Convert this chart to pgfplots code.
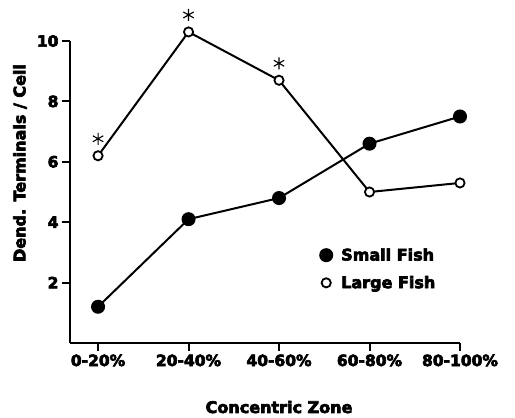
\documentclass[border=0pt]{standalone}
\usepackage{pgfplots}
\pgfplotsset{compat=1.18}
\usepackage{fontspec}
\setmainfont{DejaVu Sans}[BoldFont={DejaVu Sans Bold}, BoldFeatures={FakeBold=4}]
\begin{document}
\begin{tikzpicture}
\path[use as bounding box] (-70pt,-75pt) rectangle (445pt,343pt);
\begin{axis}[
  at={(0pt,0pt)}, anchor=south west,
  width=390pt, height=302pt, scale only axis,
  xmin=-0.31, xmax=4, ymin=0, ymax=10,
  axis x line*=bottom, axis y line*=left,
  axis line style={line width=2pt, black},
  xtick={0,1,2,3,4},
  xticklabels={0-20\%,20-40\%,40-60\%,60-80\%,80-100\%},
  ytick={2,4,6,8,10},
  tick align=outside, major tick length=8pt,
  tick style={line width=2pt, black},
  /pgf/number format/assume math mode=true,
  tick label style={font=\fontsize{15.5}{18}\selectfont\bfseries},
  xlabel={Concentric Zone}, ylabel={Dend. Terminals / Cell},
  label style={font=\fontsize{16}{19}\selectfont\bfseries},
  xlabel style={at={(axis description cs:0.536,-0.212)}, anchor=center},
  ylabel style={at={(axis description cs:-0.128,0.596)}, anchor=center},
  clip=false,
  legend style={at={(axis cs:2.42,2.45)}, anchor=west, draw=none, fill=none,
    font=\fontsize{16}{19}\selectfont\bfseries, row sep=10pt},
  legend cell align=left,
  legend image code/.code={\draw[#1, only marks] plot coordinates {(0.3cm,0cm)};
    \path[draw=none] (0.3cm-6pt,0cm) -- (0.3cm+13pt,0cm);},
]
\addplot[black, line width=2pt, mark=*, mark size=6pt, mark options={fill=black}]
  coordinates {(0,1.2) (1,4.1) (2,4.8) (3,6.6) (4,7.5)};
\addlegendentry{Small Fish}
\addplot[black, line width=2pt, mark=*, mark size=4.6pt, mark options={fill=white, line width=1.8pt}]
  coordinates {(0,6.2) (1,10.3) (2,8.7) (3,5.0) (4,5.3)};
\addlegendentry{Large Fish}
\addplot[forget plot, only marks, black, mark=asterisk, mark size=6pt,
  mark options={line width=1.1pt}, every mark/.append style={yshift=17pt}]
  coordinates {(0,6.2) (1,10.3) (2,8.7)};
\end{axis}
\end{tikzpicture}
\end{document}
